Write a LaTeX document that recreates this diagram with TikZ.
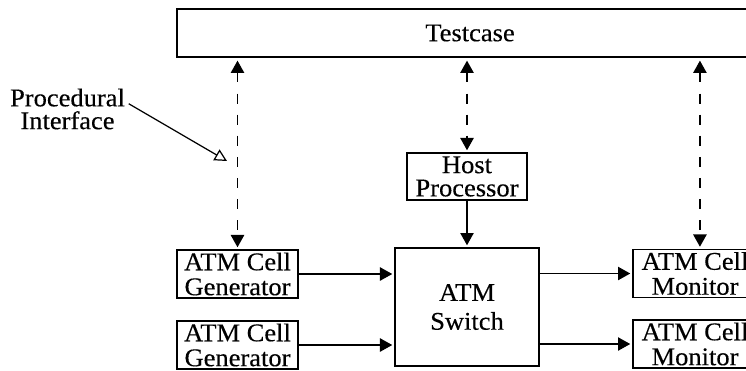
\documentclass[tikz,border=0pt]{standalone}
\usepackage{fontspec}
\setmainfont{Liberation Serif}[FakeStretch=1.04,FakeBold=0.3]
\usetikzlibrary{arrows.meta}

\begin{document}
\begin{tikzpicture}[x=0.02cm,y=-0.02cm,
    box/.style={draw,line width=1.1pt,inner sep=0pt,align=center,
      font=\fontsize{14.5}{14.2}\selectfont},
    tip/.style={-{Triangle[length=7pt,width=7.5pt]}},
    link/.style={line width=1pt,tip,shorten >=1pt},
    dlink/.style={link,{Triangle[length=7pt,width=7.5pt]}-{Triangle[length=7pt,width=7.5pt]},
      line width=1.1pt,dash pattern=on 5.7pt off 6.3pt,shorten <=1.5pt}]
    \clip (0,0) rectangle (746,370);
    % boxes
    \node[box,minimum width=11.72cm,minimum height=0.96cm] (test) at (470,33) {Testcase};
    \node[box,minimum width=2.4cm,minimum height=0.94cm,font=\fontsize{14.5}{13.2}\selectfont]
      (host) at (467,176.5) {Host\\Processor};
    \node[box,minimum width=2.88cm,minimum height=2.36cm,font=\fontsize{14.5}{16.4}\selectfont]
      (sw) at (467,307) {ATM\\Switch};
    \node[box,minimum width=2.42cm,minimum height=0.96cm] (gen1) at (237.5,274) {ATM Cell\\Generator};
    \node[box,minimum width=2.42cm,minimum height=0.96cm] (gen2) at (237.5,345) {ATM Cell\\Generator};
    \node[box,minimum width=2.48cm,minimum height=0.96cm] (mon1) at (695,273.5) {ATM Cell\\Monitor};
    \node[box,minimum width=2.48cm,minimum height=0.96cm] (mon2) at (695,344) {ATM Cell\\Monitor};
    \node[inner sep=2pt,align=center,font=\fontsize{14.5}{13}\selectfont] (proc) at (67.5,109)
      {Procedural\\Interface};
    \coordinate (pitip) at (227,161);
    % procedural interface
    \draw[dlink] (gen1.north |- test.south) -- (gen1.north);
    \draw[dlink] (host.north |- test.south) -- (host.north);
    \draw[dlink] ([xshift=2.8pt]mon1.north |- test.south) -- ([xshift=2.8pt]mon1.north);
    \draw[line width=0.7pt,-{Triangle[open,length=7pt,width=7pt]}] ([yshift=3pt]proc.east) -- (pitip);
    % data path
    \draw[link] (host) -- (sw.north);
    \draw[link] (gen1.east) -- (gen1.east -| sw.west);
    \draw[link] (gen2.east) -- (gen2.east -| sw.west);
    \draw[link] (sw.east |- mon1.west) -- (mon1.west);
    \draw[link] (sw.east |- mon2.west) -- (mon2.west);
\end{tikzpicture}
\end{document}
